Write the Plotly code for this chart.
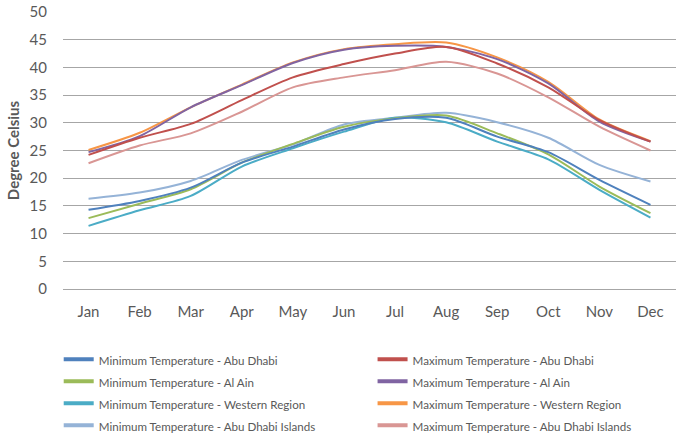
import plotly.graph_objects as go

months = ["Jan", "Feb", "Mar", "Apr", "May", "Jun", "Jul", "Aug", "Sep", "Oct", "Nov", "Dec"]

min_abu_dhabi = [14.3, 15.9, 18.3, 22.8, 25.7, 28.8, 30.7, 30.9, 27.5, 24.7, 19.7, 15.2]
min_al_ain = [12.8, 15.4, 18.0, 22.8, 26.2, 29.3, 30.8, 31.3, 28.1, 24.3, 18.5, 13.7]
min_western = [11.4, 14.2, 16.8, 22.1, 25.4, 28.4, 30.9, 30.1, 26.6, 23.4, 17.9, 12.9]
min_islands = [16.3, 17.4, 19.5, 23.3, 26.1, 29.7, 30.9, 31.8, 30.1, 27.3, 22.4, 19.4]
max_abu_dhabi = [24.2, 27.3, 29.8, 34.1, 38.2, 40.6, 42.5, 43.7, 40.7, 36.4, 30.5, 26.6]
max_al_ain = [24.7, 27.6, 32.8, 36.8, 40.8, 43.2, 43.9, 43.7, 41.5, 37.1, 30.2, 26.6]
max_western = [25.1, 28.2, 32.8, 36.9, 40.9, 43.3, 44.2, 44.5, 41.8, 37.4, 30.6, 26.7]
max_islands = [22.7, 25.9, 28.1, 32.0, 36.4, 38.2, 39.5, 41.0, 38.9, 34.6, 29.3, 25.0]

series = [
    ("Minimum Temperature - Abu Dhabi", min_abu_dhabi, "#4F81BD", "legend"),
    ("Maximum Temperature - Abu Dhabi", max_abu_dhabi, "#C0504D", "legend2"),
    ("Minimum Temperature - Al Ain", min_al_ain, "#9BBB59", "legend"),
    ("Maximum Temperature - Al Ain", max_al_ain, "#8064A2", "legend2"),
    ("Minimum Temperature - Western Region", min_western, "#4BACC6", "legend"),
    ("Maximum Temperature - Western Region", max_western, "#F79646", "legend2"),
    ("Minimum Temperature - Abu Dhabi Islands", min_islands, "#95B3D7", "legend"),
    ("Maximum Temperature - Abu Dhabi Islands", max_islands, "#D99694", "legend2"),
]

fig = go.Figure()
draw_order = [6, 7, 4, 5, 2, 3, 0, 1]
for i in draw_order:
    name, vals, color, lg = series[i]
    fig.add_trace(go.Scatter(
        x=months, y=vals, mode="lines", name=name,
        line=dict(color=color, width=2, shape="spline", smoothing=0.8),
        showlegend=False, hoverinfo="skip",
    ))
# legend entries (thicker sample lines)
for name, vals, color, lg in series:
    fig.add_trace(go.Scatter(
        x=[None], y=[None], mode="lines",
        name="<span style='font-size:11.6px'>" + name + "</span>",
        line=dict(color=color, width=4),
        showlegend=True, legend=lg,
    ))

legend_common = dict(
    orientation="v", xanchor="left", yanchor="top",
    xref="paper", yref="container",
    font=dict(size=14.6, color="#595959", family="Lato, sans-serif"),
    traceorder="normal", itemwidth=30,
    bgcolor="rgba(0,0,0,0)", tracegroupgap=0,
)

fig.update_layout(
    width=676, height=435,
    margin=dict(l=63, r=0, t=12, b=146),
    paper_bgcolor="white", plot_bgcolor="white",
    font=dict(family="Lato, sans-serif", color="#595959"),
    showlegend=True,
    legend=dict(x=-0.007, y=0.211, **legend_common),
    legend2=dict(x=0.505, y=0.211, **legend_common),
    xaxis=dict(
        type="category", showgrid=False, zeroline=False,
        showline=False, ticks="",
        tickfont=dict(size=15, color="#595959"),
        ticklabelstandoff=12,
        range=[-0.5, 11.5],
    ),
    yaxis=dict(
        range=[0, 50], dtick=5, tick0=0,
        showgrid=True, gridcolor="#A6A6A6", gridwidth=1,
        zeroline=True, zerolinecolor="#A6A6A6", zerolinewidth=1,
        showline=False, ticks="",
        tickfont=dict(size=15, color="#595959"),
        ticklabelstandoff=15,
        title=dict(text="<b>Degree Celsius</b>", font=dict(size=15, color="#595959"), standoff=6),
        automargin=False,
    ),
)

fig.write_html("out.html", config={"displayModeBar": False},
               post_script="document.body.style.margin='0';")
